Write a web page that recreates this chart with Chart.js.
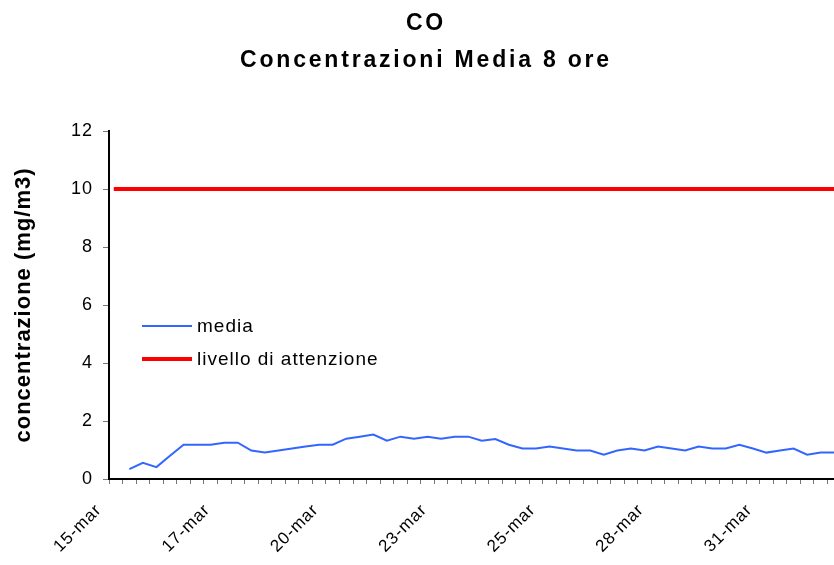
<!DOCTYPE html>
<html>
<head>
<meta charset="utf-8">
<script src="https://cdn.jsdelivr.net/npm/chart.js@4.4.1/dist/chart.umd.min.js"></script>
<style>
  html, body { margin: 0; padding: 0; background: #fff; overflow: hidden; }
  #wrap { width: 850px; height: 565px; }
</style>
</head>
<body>
<div id="wrap"><canvas id="grafico" width="850" height="565"></canvas></div>
<script>
// categorie: una ogni 8 ore (3 al giorno)
const categorie = [
    "15-mar", "15-mar", "15-mar", "16-mar", "16-mar", "16-mar",
    "17-mar", "17-mar", "17-mar", "18-mar", "18-mar", "18-mar",
    "19-mar", "19-mar", "19-mar", "20-mar", "20-mar", "20-mar",
    "21-mar", "21-mar", "21-mar", "22-mar", "22-mar", "22-mar",
    "23-mar", "23-mar", "23-mar", "24-mar", "24-mar", "24-mar",
    "25-mar", "25-mar", "25-mar", "26-mar", "26-mar", "26-mar",
    "27-mar", "27-mar", "27-mar", "28-mar", "28-mar", "28-mar",
    "29-mar", "29-mar", "29-mar", "30-mar", "30-mar", "30-mar",
    "31-mar", "31-mar", "31-mar", "1-apr", "1-apr", "1-apr"
];

// media 8 ore (mg/m3)
const media = [
    null, 0.34, 0.56, 0.41, 0.80, 1.18, 1.18, 1.18, 1.25, 1.25,
    0.98, 0.91, 0.98, 1.05, 1.12, 1.18, 1.18, 1.39, 1.46, 1.53,
    1.32, 1.46, 1.39, 1.46, 1.39, 1.46, 1.46, 1.32, 1.38, 1.18,
    1.05, 1.05, 1.12, 1.05, 0.98, 0.98, 0.84, 0.98, 1.05, 0.98,
    1.12, 1.05, 0.98, 1.12, 1.05, 1.05, 1.18, 1.05, 0.91, 0.98,
    1.05, 0.84, 0.91, 0.91
];

// livello di attenzione (mg/m3)
const livello = [
    10, 10, 10, 10, 10, 10, 10, 10, 10, 10,
    10, 10, 10, 10, 10, 10, 10, 10, 10, 10,
    10, 10, 10, 10, 10, 10, 10, 10, 10, 10,
    10, 10, 10, 10, 10, 10, 10, 10, 10, 10,
    10, 10, 10, 10, 10, 10, 10, 10, 10, 10,
    10, 10, 10, 10
];

const yTicks = [0, 2, 4, 6, 8, 10, 12];
const ogniQuante = 8; // una etichetta ogni 8 categorie

const FONT = "Arial, 'Liberation Sans', sans-serif";

// punti al centro di ogni categoria
function toPoints(values) {
    return values.map((v, i) => ({ x: i + 0.5, y: v }));
}

// spaziatura lettere come nel grafico originale (titolo piu' largo)
const spaziatura = {
    id: "spaziatura",
    afterInit(chart) {
        const tb = chart.titleBlock;
        if (!tb) return;
        const drawTitolo = tb.draw.bind(tb);
        tb.draw = (area) => {
            chart.ctx.save();
            chart.ctx.letterSpacing = "2.8px";
            drawTitolo(area);
            chart.ctx.restore();
        };
    },
    beforeDraw(chart) {
        chart.ctx.letterSpacing = "1px";
    }
};

// legenda dentro l'area del grafico
const legendaInterna = {
    id: "legendaInterna",
    afterDraw(chart) {
        const ctx = chart.ctx;
        const x0 = 142, x1 = 192, righe = [326, 359];
        ctx.save();
        ctx.letterSpacing = "1px";
        ctx.font = "19px " + FONT;
        ctx.textBaseline = "middle";
        ctx.textAlign = "left";
        chart.data.datasets.forEach((ds, i) => {
            const y = righe[i];
            ctx.strokeStyle = ds.borderColor;
            ctx.lineWidth = ds.borderWidth;
            ctx.beginPath();
            ctx.moveTo(x0, y);
            ctx.lineTo(x1, y);
            ctx.stroke();
            ctx.fillStyle = "#000";
            ctx.fillText(ds.label, x1 + 5, y + 1);
        });
        ctx.restore();
    }
};

new Chart(document.getElementById("grafico"), {
    type: "line",
    data: {
        datasets: [
            {
                label: "media",
                data: toPoints(media),
                borderColor: "#3366FF",
                borderWidth: 2,
                pointRadius: 0,
                tension: 0
            },
            {
                label: "livello di attenzione",
                data: toPoints(livello),
                borderColor: "#FF0000",
                borderWidth: 4,
                borderCapStyle: "square",
                pointRadius: 0,
                tension: 0
            }
        ]
    },
    options: {
        responsive: false,
        animation: false,
        devicePixelRatio: 1,
        layout: { padding: { left: 11, right: 9, top: 0, bottom: 0 } },
        plugins: {
            legend: { display: false },
            tooltip: { enabled: false },
            title: {
                display: true,
                text: ["CO", "Concentrazioni Media 8 ore"],
                color: "#000",
                font: { family: FONT, size: 23, weight: "bold", lineHeight: "37px" },
                padding: { top: 5, bottom: 52 }
            }
        },
        scales: {
            x: {
                type: "linear",
                min: 0,
                max: categorie.length,
                grid: {
                    drawOnChartArea: false,
                    drawTicks: true,
                    tickLength: 5,
                    color: "#777"
                },
                border: { color: "#000", width: 2 },
                ticks: {
                    stepSize: 1,
                    autoSkip: false,
                    maxRotation: 45,
                    minRotation: 45,
                    padding: 16,
                    labelOffset: -10,
                    color: "#000",
                    font: { family: FONT, size: 17 },
                    callback: (v) => (v % ogniQuante === 0 && categorie[v]) ? categorie[v] : ""
                },
                afterFit: (s) => {
                    s.height = 86;
                    s.paddingLeft = 0;
                    s.paddingRight = 0;
                }
            },
            y: {
                min: yTicks[0],
                max: yTicks[yTicks.length - 1],
                grid: {
                    drawOnChartArea: false,
                    drawTicks: true,
                    tickLength: 6,
                    color: "#777"
                },
                border: { color: "#000", width: 2 },
                afterBuildTicks: (s) => { s.ticks = yTicks.map(v => ({ value: v })); },
                ticks: {
                    padding: 10,
                    color: "#000",
                    font: { family: FONT, size: 18 }
                },
                title: {
                    display: true,
                    text: "concentrazione (mg/m3)",
                    color: "#000",
                    font: { family: FONT, size: 22, weight: "bold" },
                    padding: { top: 0, bottom: 0 }
                },
                afterFit: (s) => { s.width = 98; }
            }
        }
    },
    plugins: [spaziatura, legendaInterna]
});
</script>
</body>
</html>
